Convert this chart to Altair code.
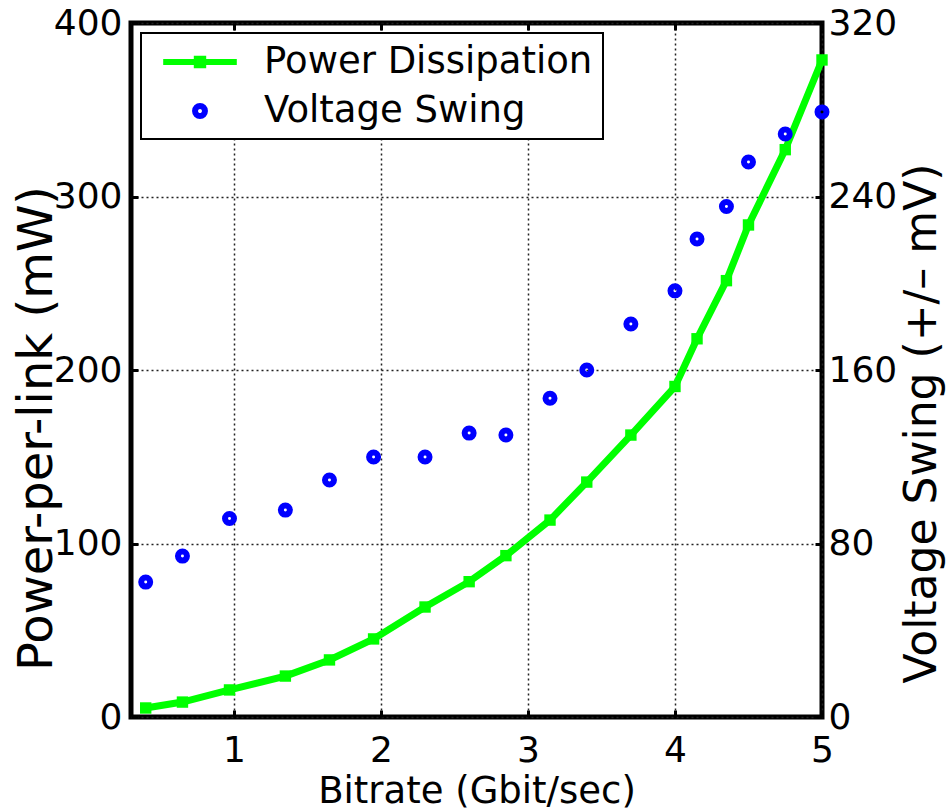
import altair as alt
import pandas as pd

# ---- data ----
bitrate = [0.40, 0.65, 0.97, 1.35, 1.65, 1.95, 2.30, 2.60, 2.85, 3.15,
           3.40, 3.70, 4.00, 4.15, 4.35, 4.50, 4.75, 5.00]
power_mw = [5.2, 8.6, 15.6, 23.6, 32.9, 45.0, 63.4, 78.0, 93.0, 113.5,
            135.4, 162.5, 190.5, 218.0, 251.5, 283.6, 327.0, 378.7]
voltage_mv = [62.2, 74.2, 91.5, 95.4, 109.3, 119.9, 119.9, 130.9, 130.0, 147.0,
              160.0, 181.2, 196.5, 220.4, 235.4, 255.9, 268.8, 279.0]

series_names = ["Power Dissipation", "Voltage Swing"]
series_colors = ["#00ff00", "#0000ff"]
x_ticks = [1, 2, 3, 4, 5]
power_ticks = [0, 100, 200, 300, 400]
voltage_ticks = [0, 80, 160, 240, 320]

power_df = pd.DataFrame({"bitrate": bitrate, "power": power_mw})
volt_df = pd.DataFrame({"bitrate": bitrate, "voltage": voltage_mv,
                        "series": ["Voltage Swing"] * len(bitrate)})

FONT = "DejaVu Sans"
POWER_SYM = "M-2.3,0H2.3M-0.2,-0.2H0.2V0.2H-0.2Z"
VOLT_SYM = "M-0.31,0A0.31,0.31,0,1,0,0.31,0A0.31,0.31,0,1,0,-0.31,0Z"

xscale = alt.Scale(domain=[0.3, 5], nice=False, zero=False)

legend_props = dict(
    title=None, orient="none", legendX=10, legendY=10,
    fillColor="white", strokeColor="black", padding=10,
    symbolSize=1024, symbolStrokeWidth=6, symbolOffset=30,
    labelOffset=45, labelFontSize=37, labelFont=FONT, labelColor="black",
    labelLimit=600, rowPadding=12,
)

power_layer = alt.Chart(power_df).mark_line(
    color="#00ff00", strokeWidth=7,
    point=alt.OverlayMarkDef(shape="square", filled=True, size=130, color="#00ff00", opacity=1),
).encode(
    x=alt.X("bitrate:Q", scale=xscale,
            axis=alt.Axis(orient="bottom", values=x_ticks, title="Bitrate (Gbit/sec)",
                          grid=True, ticks=True, tickSize=7, offset=-7, domain=False,
                          labelPadding=16, labelFlush=False, titleFontSize=37,
                          titleBaseline="alphabetic", titleY=92)),
    y=alt.Y("power:Q", scale=alt.Scale(domain=[0, 400], nice=False),
            axis=alt.Axis(orient="left", values=power_ticks, title="Power-per-link (mW)",
                          grid=True, ticks=True, tickSize=7, offset=-7, domain=False,
                          labelPadding=9, titleFontSize=48, titleAngle=270,
                          titleBaseline="alphabetic", titleAlign="center",
                          titleX=-87, titleY=405)),
)

volt_layer = alt.Chart(volt_df).mark_point(
    filled=False, strokeWidth=6, size=841, opacity=1,
).encode(
    x=alt.X("bitrate:Q", scale=xscale,
            axis=alt.Axis(orient="top", values=x_ticks, title=None, labels=False,
                          grid=False, ticks=True, tickSize=7, offset=-7, domain=False)),
    y=alt.Y("voltage:Q", scale=alt.Scale(domain=[0, 320], nice=False),
            axis=alt.Axis(orient="right", values=voltage_ticks, title="Voltage Swing (+/\u2013 mV)",
                          grid=False, ticks=True, tickSize=7, offset=-7, domain=False,
                          labelPadding=6, titleFontSize=44, titleAngle=270,
                          titleBaseline="alphabetic", titleAlign="center",
                          titleX=120, titleY=400)),
    color=alt.Color("series:N", scale=alt.Scale(domain=series_names, range=series_colors),
                    legend=alt.Legend(**legend_props)),
    shape=alt.Shape("series:N", scale=alt.Scale(domain=series_names, range=[POWER_SYM, VOLT_SYM]),
                    legend=alt.Legend(**legend_props)),
)

chart = alt.layer(power_layer, volt_layer).resolve_scale(
    y="independent"
).resolve_axis(
    x="independent", y="independent"
).properties(
    width=691, height=694,
    padding={"left": 131, "top": 23, "right": 126, "bottom": 95},
    autosize=alt.AutoSizeParams(type="none"),
    background="white",
).configure_view(
    stroke="black", strokeWidth=5
).configure_axis(
    labelFont=FONT, labelFontSize=36, labelColor="black",
    titleFont=FONT, titleColor="black", titleFontWeight="normal",
    tickColor="black", tickWidth=3,
    gridColor="#222222", gridDash=[2, 3], gridWidth=1.5, gridOpacity=1,
).configure_legend(
    strokeWidth=2
)

chart.save("out.html", embed_options={"renderer": "svg", "actions": False})
